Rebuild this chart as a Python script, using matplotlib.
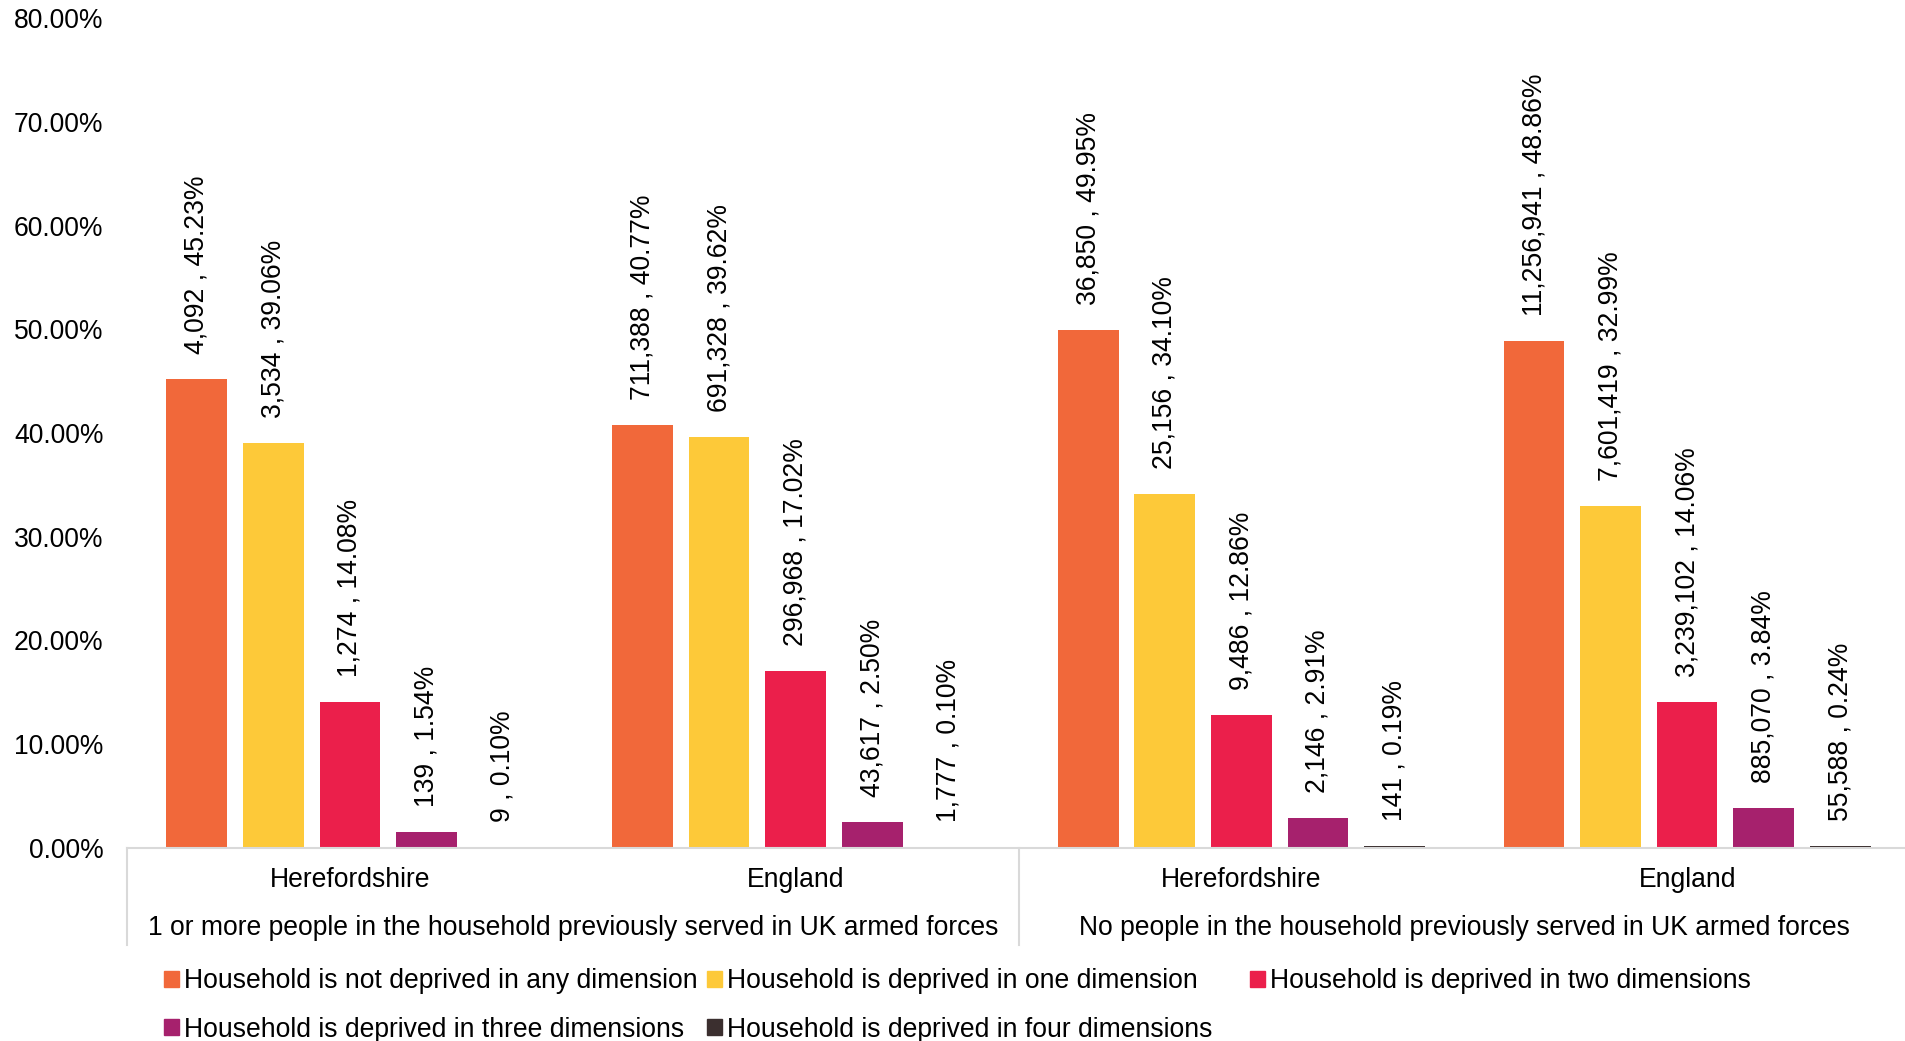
# ============================================
# Deprivation dimensions by armed forces service
# ============================================

import matplotlib.pyplot as plt
import matplotlib.transforms as mtransforms
from matplotlib.patches import Patch

plt.rcParams['font.family'] = ['Liberation Sans', 'DejaVu Sans']

# 1. DATA
areas = ['Herefordshire', 'England', 'Herefordshire', 'England']
groups = ['1 or more people in the household previously served in UK armed forces',
          'No people in the household previously served in UK armed forces']
series = ['Household is not deprived in any dimension',
          'Household is deprived in one dimension',
          'Household is deprived in two dimensions',
          'Household is deprived in three dimensions',
          'Household is deprived in four dimensions']
colors = ['#F1683A', '#FDC939', '#EB1F4B', '#A6216D', '#3B2F2F']

# percentages, one list per series (4 areas each)
pct_none = [45.23, 40.77, 49.95, 48.86]
pct_one = [39.06, 39.62, 34.10, 32.99]
pct_two = [14.08, 17.02, 12.86, 14.06]
pct_three = [1.54, 2.50, 2.91, 3.84]
pct_four = [0.10, 0.10, 0.19, 0.24]

cnt_none = [4092, 711388, 36850, 11256941]
cnt_one = [3534, 691328, 25156, 7601419]
cnt_two = [1274, 296968, 9486, 3239102]
cnt_three = [139, 43617, 2146, 885070]
cnt_four = [9, 1777, 141, 55588]

pcts = [pct_none, pct_one, pct_two, pct_three, pct_four]
counts = [cnt_none, cnt_one, cnt_two, cnt_three, cnt_four]

# 2. FIGURE
W, H = 1905, 1041
fig = plt.figure(figsize=(W / 100, H / 100), dpi=100)
ax = fig.add_axes([127 / W, 1 - 848 / H, (1910 - 127) / W, (848 - 18) / H])

fs = 19.1
step = 63 / 367
width = 50 / 367
x = list(range(len(areas)))

for i in range(len(series)):
    xs = [xi + (i - 2) * step for xi in x]
    ax.bar(xs, pcts[i], width=width, color=colors[i], zorder=2)
    for xb, p, c in zip(xs, pcts[i], counts[i]):
        ax.annotate(f'{c:,} , {p:.2f}%', (xb, p), xytext=(0, 18),
                    textcoords='offset points', rotation=90,
                    ha='center', va='bottom', fontsize=fs)

ax.set_xlim(-0.5, len(areas) - 0.5)
ax.set_ylim(0, 80)
ax.set_yticks(range(0, 81, 10))
ax.set_yticklabels([f'{v:.2f}%' for v in range(0, 81, 10)], fontsize=fs)
ax.tick_params(axis='y', length=0, pad=17)
ax.set_xticks([])
for s in ax.spines.values():
    s.set_visible(False)

# 3. CATEGORY AXIS (two levels)
trans = mtransforms.blended_transform_factory(ax.transData, ax.transAxes)
axh = 848 - 18
ax.plot([-0.5, 3.5], [0, 0], transform=trans, color='#D9D9D9', lw=1.5,
        clip_on=False, zorder=3)
for xv in [-0.5, 1.5, 3.5]:
    ax.plot([xv, xv], [0, -97 / axh], transform=trans, color='#D9D9D9',
            lw=1.5, clip_on=False)
for xi, name in zip(x, areas):
    ax.text(xi, -32 / axh, name, transform=trans, ha='center', va='center',
            fontsize=fs)
for gi, g in enumerate(groups):
    ax.text(gi * 2 + 0.5, -80 / axh, g, transform=trans, ha='center',
            va='center', fontsize=fs)

# 4. LEGEND - three equal-width columns (rows: 0,1,2 / 3,4)
handles = [Patch(color=c, label=s) for c, s in zip(colors, series)]
columns = [[0, 3], [1, 4], [2]]
for ci, col in enumerate(columns):
    fig.legend([handles[k] for k in col], [series[k] for k in col],
               loc='upper left', bbox_to_anchor=((164 + ci * 543) / W, 1 - 968 / H),
               frameon=False, fontsize=fs, handlelength=0.55, handleheight=0.55,
               handletextpad=0.2, labelspacing=0.85,
               borderaxespad=0, borderpad=0)

fig.savefig('out.png', dpi=100)
